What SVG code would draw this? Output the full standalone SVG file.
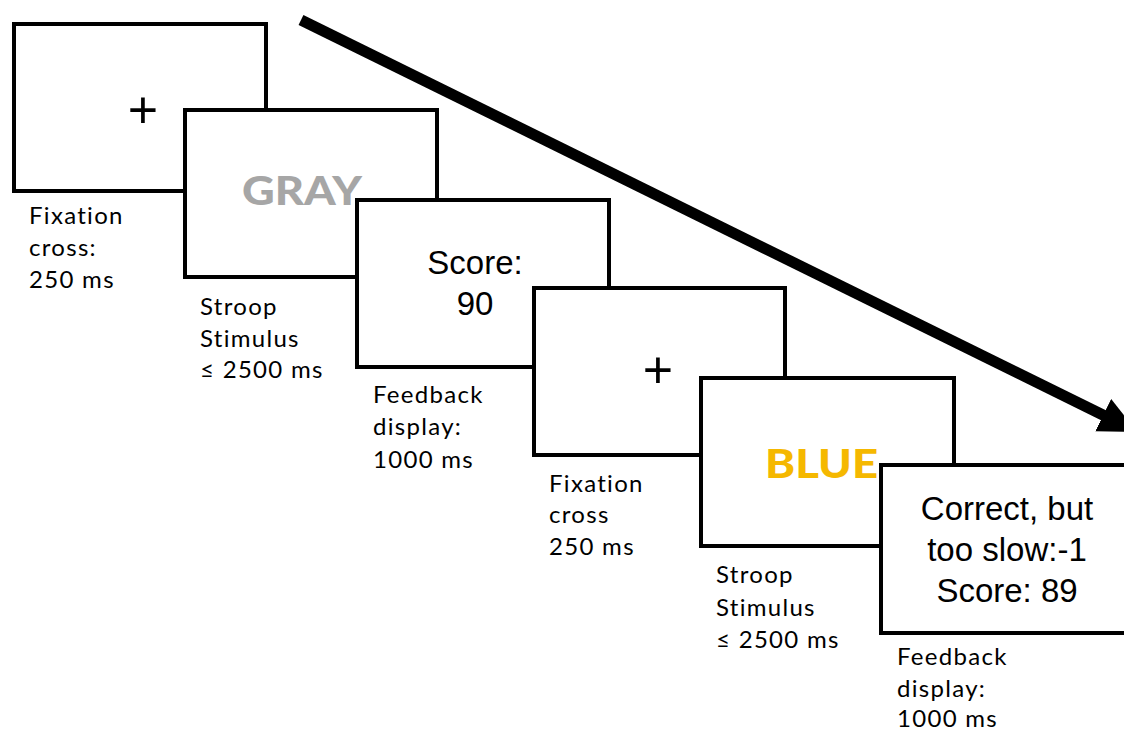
<svg xmlns="http://www.w3.org/2000/svg" width="1124" height="732" viewBox="0 0 1124 732">
<defs>
<style>
.box{fill:#fff;stroke:#000;stroke-width:4}
.lbl{font-family:Lato,"Noto Sans","Liberation Sans",sans-serif;font-size:24px;letter-spacing:1.3px;fill:#000}
.plus{font-family:"Liberation Sans",Arial,sans-serif;font-size:52px;fill:#000;text-anchor:middle}
.word{font-family:Lato,"Liberation Sans",sans-serif;font-weight:900;font-size:39px}
.fb{font-family:"Liberation Sans",Arial,sans-serif;font-size:33px;fill:#000;text-anchor:middle}
.arrow{stroke:#000;stroke-width:11;fill:none}
</style>
<marker id="ah" markerUnits="userSpaceOnUse" markerWidth="40" markerHeight="40" refX="2" refY="18" orient="auto">
<path d="M0,0 L38,18 L0,36 z" fill="#000"/>
</marker>
</defs>
<rect width="1124" height="732" fill="#fff"/>
<g id="connectors">
<line class="arrow" x1="301" y1="20" x2="1105" y2="416" marker-end="url(#ah)"/>
</g>
<g id="node1">
<rect class="box" x="14" y="24" width="252" height="167"/>
<text class="plus" x="143" y="128">+</text>
<text class="lbl" x="29" y="224">Fixation</text>
<text class="lbl" x="29" y="256">cross:</text>
<text class="lbl" x="29" y="288">250 ms</text>
</g>
<g id="node2">
<rect class="box" x="185" y="110" width="252" height="167"/>
<text class="word" x="242" y="205" fill="#a6a6a6" textLength="120" lengthAdjust="spacingAndGlyphs">GRAY</text>
<text class="lbl" x="200" y="315">Stroop</text>
<text class="lbl" x="200" y="347">Stimulus</text>
<text class="lbl" x="200" y="378">≤ 2500 ms</text>
</g>
<g id="node3">
<rect class="box" x="357" y="200" width="252" height="167"/>
<text class="fb" x="475" y="274">Score:</text>
<text class="fb" x="475" y="315">90</text>
<text class="lbl" x="373" y="403">Feedback</text>
<text class="lbl" x="373" y="435">display:</text>
<text class="lbl" x="373" y="468">1000 ms</text>
</g>
<g id="node4">
<rect class="box" x="534" y="288" width="251" height="167"/>
<text class="plus" x="658" y="388">+</text>
<text class="lbl" x="549" y="492">Fixation</text>
<text class="lbl" x="549" y="523">cross</text>
<text class="lbl" x="549" y="555">250 ms</text>
</g>
<g id="node5">
<rect class="box" x="701" y="378" width="253" height="168"/>
<text class="word" x="765" y="478" fill="#f5b800" textLength="113" lengthAdjust="spacingAndGlyphs">BLUE</text>
<text class="lbl" x="716" y="583">Stroop</text>
<text class="lbl" x="716" y="616">Stimulus</text>
<text class="lbl" x="716" y="648">≤ 2500 ms</text>
</g>
<g id="node6">
<rect class="box" x="881" y="465" width="253" height="168"/>
<text class="fb" x="1007" y="520">Correct, but</text>
<text class="fb" x="1007" y="561">too slow:-1</text>
<text class="fb" x="1007" y="602">Score: 89</text>
<text class="lbl" x="897" y="665">Feedback</text>
<text class="lbl" x="897" y="697">display:</text>
<text class="lbl" x="897" y="727">1000 ms</text>
</g>
</svg>
